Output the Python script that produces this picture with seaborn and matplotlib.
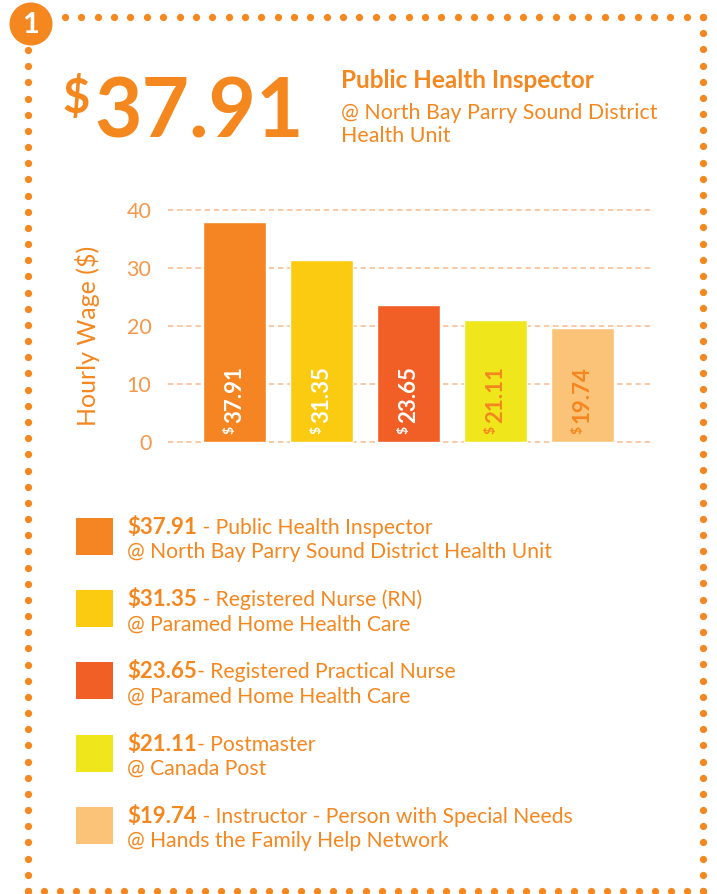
import matplotlib
matplotlib.use("Agg")
import matplotlib.pyplot as plt
import seaborn as sns
import pandas as pd
import numpy as np
from matplotlib.patches import Circle, Rectangle

# ---------------- data ----------------
wages = [37.91, 31.35, 23.65, 21.11, 19.74]
jobs = ["Public Health Inspector", "Registered Nurse (RN)", "Registered Practical Nurse",
        "Postmaster", "Instructor - Person with Special Needs"]
employers = ["North Bay Parry Sound District Health Unit", "Paramed Home Health Care",
             "Paramed Home Health Care", "Canada Post", "Hands the Family Help Network"]
legend_seps = [" - ", " - ", "- ", "- ", " - "]
bar_colors = ["#F58522", "#FBCB12", "#F15E26", "#EFE61C", "#FBC377"]
value_label_colors = ["white", "white", "white", "#F5861F", "#F5861F"]
y_ticks = [0, 10, 20, 30, 40]
y_label = "Hourly Wage ($)"
badge = "1"

ORANGE = "#F5871F"
TICK = "#F6974A"
GRID = "#F9B98A"
LIGHT = "normal"

sns.set_theme(style="white")
plt.rcParams["font.family"] = ["Lato", "DejaVu Sans"]

W, H = 717, 894
fig = plt.figure(figsize=(W / 100, H / 100), dpi=100)
fig.patch.set_facecolor("white")

# background overlay in pixel coordinates
bg = fig.add_axes([0, 0, 1, 1], zorder=0)
bg.set_xlim(0, W)
bg.set_ylim(H, 0)
bg.axis("off")

# ---------------- bar chart ----------------
y0, y1 = -0.5, 40.5
ppu = 5.8  # pixels per unit
ax_bottom_px = 442 + (0 - y0) * ppu
ax_h_px = (y1 - y0) * ppu
ax = fig.add_axes([168 / W, 1 - ax_bottom_px / H, 485 / W, ax_h_px / H], zorder=1)
ax.patch.set_alpha(0)

df = pd.DataFrame({"job": jobs, "wage": wages})
sns.barplot(data=df, x="job", y="wage", hue="job", palette=bar_colors, width=0.72,
            legend=False, ax=ax, saturation=1, zorder=2)
ax.set_xlim(-0.764, 4.81)
ax.set_ylim(y0, y1)
ax.set_yticks(y_ticks)
ax.yaxis.grid(True, color=GRID, linestyle=(0, (3.5, 2.5)), linewidth=1.1)
ax.xaxis.grid(False)
ax.set_axisbelow(True)
ax.set_xticks([])
ax.set_xlabel("")
for s in ax.spines.values():
    s.set_visible(False)
ax.tick_params(axis="y", length=0, pad=12, labelsize=15.5, labelcolor=TICK)
for lab in ax.get_yticklabels():
    lab.set_fontweight(LIGHT)
ax.set_ylabel(y_label, fontsize=18, color=ORANGE, fontweight=LIGHT)
ax.yaxis.set_label_coords(-0.14, 0.46)

for i, v in enumerate(wages):
    ax.text(i, 3.3, f"{v:.2f}", rotation=90, ha="center", va="bottom", fontsize=16,
            fontweight="bold", color=value_label_colors[i], zorder=3)
    ax.text(i - 0.06, 1.3, "$", rotation=90, ha="center", va="bottom", fontsize=10,
            fontweight="bold", color=value_label_colors[i], zorder=3)

# ---------------- header ----------------
bg.text(62, 113, "$", fontsize=34, fontweight="bold", color=ORANGE, va="baseline")
bg.text(94, 138, f"{wages[0]:.2f}", fontsize=59, fontweight="bold", color=ORANGE, va="baseline")
bg.text(341, 88, jobs[0], fontsize=17.5, fontweight="bold", color=ORANGE, va="baseline")
emp_words = employers[0].split(" ")
bg.text(341, 119, "@ " + " ".join(emp_words[:-2]), fontsize=15.4, fontweight=LIGHT,
        color=ORANGE, va="baseline")
bg.text(341, 142, " ".join(emp_words[-2:]), fontsize=15.4, fontweight=LIGHT,
        color=ORANGE, va="baseline")

# ---------------- legend ----------------
renderer = fig.canvas.get_renderer()
inv = bg.transData.inverted()
for i in range(len(wages)):
    T = 518 + 72.2 * i
    bg.add_patch(Rectangle((76, T), 37, 37, color=bar_colors[i], lw=0))
    t1 = bg.text(127, T + 16, f"${wages[i]:.2f}", fontsize=16, fontweight="bold",
                 color=ORANGE, va="baseline")
    bb = t1.get_window_extent(renderer)
    xr = inv.transform((bb.x1, bb.y0))[0]
    bg.text(xr, T + 16, legend_seps[i] + jobs[i], fontsize=15.2, fontweight=LIGHT,
            color=ORANGE, va="baseline")
    bg.text(127, T + 40, "@ " + employers[i], fontsize=15.2, fontweight=LIGHT,
            color=ORANGE, va="baseline")

# ---------------- dotted frame ----------------
dot = dict(marker="o", ls="none", ms=5.2, color=ORANGE, mec="none", clip_on=False)
xt = np.linspace(65, 703, 40)
bg.plot(xt, np.full_like(xt, 17), **dot)
yl = np.linspace(50, 891, 53)
bg.plot(np.full_like(yl, 28), yl, **dot)
yr = np.linspace(17, 891, 55)
bg.plot(np.full_like(yr, 703), yr, **dot)
xb = np.linspace(28, 703, 43)
bg.plot(xb, np.full_like(xb, 891), **dot)

bg.add_patch(Circle((31, 24), 21.5, color=ORANGE, lw=0))
bg.text(31, 25, badge, fontsize=21, fontweight="bold", color="white", ha="center", va="center")

fig.savefig("out.png", dpi=100)
